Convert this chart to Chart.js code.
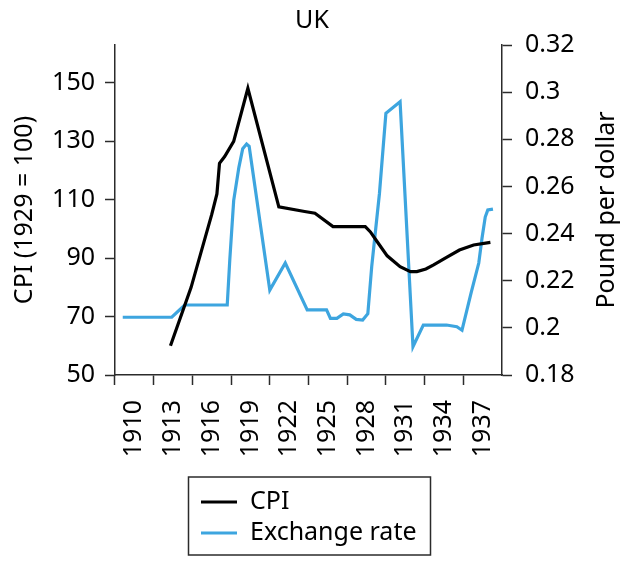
<!DOCTYPE html>
<html>
<head>
<meta charset="utf-8">
<script src="https://cdn.jsdelivr.net/npm/chart.js@4"></script>
<style>
  html, body { margin: 0; padding: 0; background: #fff; }
  #wrap { width: 624px; height: 563px; }
</style>
</head>
<body>
<div id="wrap"><canvas id="c" width="624" height="563"></canvas></div>
<script>
// ---- data ----
const xTickYears = [1910, 1913, 1916, 1919, 1922, 1925, 1928, 1931, 1934, 1937];
const cpiTicks = [50, 70, 90, 110, 130, 150];
const rateTicks = [0.18, 0.2, 0.22, 0.24, 0.26, 0.28, 0.3, 0.32];

const cpiYears = [1912.8, 1914.4, 1916.0, 1916.4, 1916.6, 1917.0, 1917.7, 1918.8, 1921.2, 1923.2, 1924.0, 1925.4, 1927.9, 1928.3, 1928.8, 1929.6, 1930.6, 1931.4, 1931.9, 1932.6, 1933.2, 1934.2, 1935.2, 1936.3, 1937.6];
const cpiValues = [60, 80, 105, 112, 122.5, 124.8, 130, 148.2, 107.6, 106, 105.4, 100.8, 100.8, 99, 95.8, 90.8, 87.1, 85.4, 85.4, 86.3, 87.7, 90.3, 92.8, 94.5, 95.4];

const rateYears = [1909.1, 1912.9, 1913.9, 1917.2, 1917.4, 1917.7, 1918.1, 1918.4, 1918.7, 1918.9, 1920.5, 1921.7, 1923.4, 1924.9, 1925.2, 1925.7, 1926.2, 1926.7, 1927.2, 1927.7, 1928.1, 1928.4, 1929.0, 1929.5, 1930.6, 1931.6, 1932.4, 1934.2, 1935.0, 1935.4, 1936.1, 1936.7, 1936.95, 1937.2, 1937.4, 1937.8];
const rateValues = [0.2045, 0.2045, 0.2097, 0.2097, 0.229, 0.254, 0.268, 0.276, 0.278, 0.277, 0.216, 0.2275, 0.2076, 0.2076, 0.204, 0.204, 0.2059, 0.2055, 0.2036, 0.2033, 0.206, 0.226, 0.257, 0.291, 0.2959, 0.192, 0.2012, 0.2012, 0.2005, 0.199, 0.2147, 0.2275, 0.238, 0.247, 0.25, 0.2504];

const seriesNames = ['CPI', 'Exchange rate'];
const titleText = 'UK';
const leftTitle = 'CPI (1929 = 100)';
const rightTitle = 'Pound per dollar';

// ---- styling ----
const FONT = "'Noto Sans', 'Open Sans', sans-serif";
const FS = 25;
const AXIS = '#2b2b2b';
const BLUE = '#3da5df';
const BLACK = '#000000';

const toPoints = (xs, ys) => xs.map((x, i) => ({ x: x, y: ys[i] }));

const rightTitlePlugin = {
  id: 'rightTitle',
  afterDraw(chart) {
    const ctx = chart.ctx;
    const a = chart.chartArea;
    ctx.save();
    ctx.font = FS + 'px ' + FONT;
    ctx.fillStyle = '#000';
    ctx.textAlign = 'center';
    ctx.textBaseline = 'middle';
    ctx.translate(607, (a.top + a.bottom) / 2);
    ctx.rotate(-Math.PI / 2);
    ctx.fillText(rightTitle, 0, 0);
    ctx.restore();
  }
};

const boxLegendPlugin = {
  id: 'boxLegend',
  afterDraw(chart) {
    const ctx = chart.ctx;
    ctx.save();
    ctx.strokeStyle = AXIS;
    ctx.lineWidth = 1.5;
    ctx.strokeRect(188.5, 477, 242, 78);
    ctx.font = FS + 'px ' + FONT;
    ctx.textAlign = 'left';
    ctx.textBaseline = 'middle';
    const rows = [502, 533];
    chart.data.datasets.forEach((ds, i) => {
      const y = rows[i];
      ctx.strokeStyle = ds.borderColor;
      ctx.lineWidth = 3;
      ctx.beginPath();
      ctx.moveTo(201, y);
      ctx.lineTo(237, y);
      ctx.stroke();
      ctx.fillStyle = '#000';
      ctx.fillText(ds.label, 250, y);
    });
    ctx.restore();
  }
};

new Chart(document.getElementById('c'), {
  type: 'line',
  data: {
    datasets: [
      {
        label: seriesNames[0],
        data: toPoints(cpiYears, cpiValues),
        yAxisID: 'yL',
        borderColor: BLACK,
        borderWidth: 3.2,
        pointRadius: 0,
        tension: 0,
        fill: false
      },
      {
        label: seriesNames[1],
        data: toPoints(rateYears, rateValues),
        yAxisID: 'yR',
        borderColor: BLUE,
        borderWidth: 3.2,
        pointRadius: 0,
        tension: 0,
        fill: false
      }
    ]
  },
  options: {
    responsive: false,
    devicePixelRatio: 1,
    animation: false,
    layout: { padding: 0 },
    plugins: {
      legend: { display: false },
      tooltip: { enabled: false },
      title: {
        display: true,
        text: titleText,
        color: '#000',
        font: { family: FONT, size: FS, weight: 'normal' },
        padding: { top: 6, bottom: 9 }
      }
    },
    scales: {
      x: {
        type: 'linear',
        min: 1908.5,
        max: 1938.5,
        afterBuildTicks: (s) => { s.ticks = xTickYears.map(v => ({ value: v })); },
        afterFit: (s) => { s.height = 188; },
        ticks: {
          autoSkip: false,
          minRotation: 90,
          maxRotation: 90,
          padding: 15,
          color: '#000',
          font: { family: FONT, size: FS },
          callback: (v) => String(v)
        },
        grid: {
          offset: true,
          drawOnChartArea: false,
          tickLength: 10,
          tickWidth: 1.5,
          tickColor: (c) => (c.type === 'tick' ? AXIS : 'rgba(0,0,0,0)')
        },
        border: { color: AXIS, width: 1.5 }
      },
      yL: {
        type: 'linear',
        position: 'left',
        min: 50,
        max: 163,
        afterBuildTicks: (s) => { s.ticks = cpiTicks.map(v => ({ value: v })); },
        afterFit: (s) => { s.width = 115; },
        ticks: {
          padding: 10,
          color: '#000',
          font: { family: FONT, size: FS },
          callback: (v) => String(v)
        },
        grid: { drawOnChartArea: false, tickLength: 10, tickWidth: 1.5, tickColor: AXIS },
        border: { color: AXIS, width: 1.5 },
        title: {
          display: true,
          text: leftTitle,
          color: '#000',
          font: { family: FONT, size: FS },
          padding: { top: 10, bottom: 0 }
        }
      },
      yR: {
        type: 'linear',
        position: 'right',
        min: 0.18,
        max: 0.32,
        afterBuildTicks: (s) => { s.ticks = rateTicks.map(v => ({ value: v })); },
        afterFit: (s) => { s.width = 122; },
        ticks: {
          padding: 13,
          color: '#000',
          font: { family: FONT, size: FS },
          callback: (v) => String(parseFloat(Number(v).toFixed(2)))
        },
        grid: { drawOnChartArea: false, tickLength: 10, tickWidth: 1.5, tickColor: AXIS },
        border: { color: AXIS, width: 1.5 }
      }
    }
  },
  plugins: [rightTitlePlugin, boxLegendPlugin]
});
</script>
</body>
</html>
